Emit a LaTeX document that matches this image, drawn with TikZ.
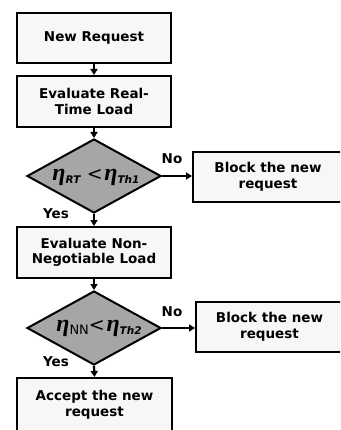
\documentclass[tikz,border=0pt]{standalone}
\usepackage{fontspec}
\setmainfont{DejaVu Sans}
\newfontfamily\etafont{Liberation Serif}
\usetikzlibrary{shapes.geometric,arrows.meta}
\definecolor{boxfill}{HTML}{F7F7F7}
\definecolor{diafill}{HTML}{A6A6A6}
\newcommand{\etachar}{{\fontsize{24}{24}\selectfont\etafont\bfseries\itshape η}}
\newcommand{\myeta}[1]{\etachar\raisebox{-3pt}{\fontsize{10.5}{10.5}\selectfont\bfseries\itshape #1}}
\begin{document}
\begin{tikzpicture}[x=1pt,y=-1pt,
  procbox/.style={draw=black, line width=2pt, fill=boxfill, align=center,
    font=\fontsize{13.5}{15.5}\selectfont\bfseries, inner sep=0pt},
  decision/.style={draw=black, line width=2pt, fill=diafill, diamond,
    minimum width=134pt, minimum height=74pt, inner sep=0pt},
  lbl/.style={font=\fontsize{13.5}{15}\selectfont\bfseries, inner sep=0pt},
  conn/.style={line width=2.2pt, -{Triangle[length=6pt,width=7pt]}}]
\clip (0,0) rectangle (340,430);
\fill[white] (0,0) rectangle (340,430);

\node[procbox, minimum width=154pt, minimum height=50pt] (new) at (94,38) {New Request};
\node[procbox, minimum width=154pt, minimum height=51pt] (eval1) at (94,101.5) {Evaluate Real-\\Time Load};
\node[decision] (d1) at (94,176) {};
\node[inner sep=0pt] (t1) at (96,177) {\myeta{RT}\ \ {\fontsize{19}{19}\selectfont <}\,\myeta{Th1}};
\node[procbox, minimum width=150pt, minimum height=50pt] (block1) at (268,177) {Block the new\\request};
\node[procbox, minimum width=154pt, minimum height=51pt] (eval2) at (94,252.5) {Evaluate Non-\\Negotiable Load};
\node[decision] (d2) at (94,328) {};
\node[inner sep=0pt] (t2) at (99,328) {\etachar\raisebox{-3pt}{\fontsize{13}{13}\selectfont NN}{\fontsize{19}{19}\selectfont <}\,\myeta{Th2}};
\node[procbox, minimum width=147pt, minimum height=50pt] (block2) at (269.5,327) {Block the new\\request};
\node[procbox, minimum width=155pt, minimum height=54pt] (accept) at (94.5,405) {Accept the new\\request};

\node[lbl] (no1) at (172,159) {No};
\node[lbl] (no2) at (172,312) {No};
\node[lbl] (yes1) at (56,214) {Yes};
\node[lbl] (yes2) at (56,362) {Yes};

\draw[conn] (new.south) -- (eval1.north);
\draw[conn] (eval1.south) -- (d1.north);
\draw[conn] (d1.south) -- (eval2.north);
\draw[conn] (eval2.south) -- (d2.north);
\draw[conn] (d2.south) -- (accept.north);
\draw[conn] (d1.east) -- (d1.east -| block1.west);
\draw[conn] (d2.east) -- (d2.east -| block2.west);
\end{tikzpicture}
\end{document}
